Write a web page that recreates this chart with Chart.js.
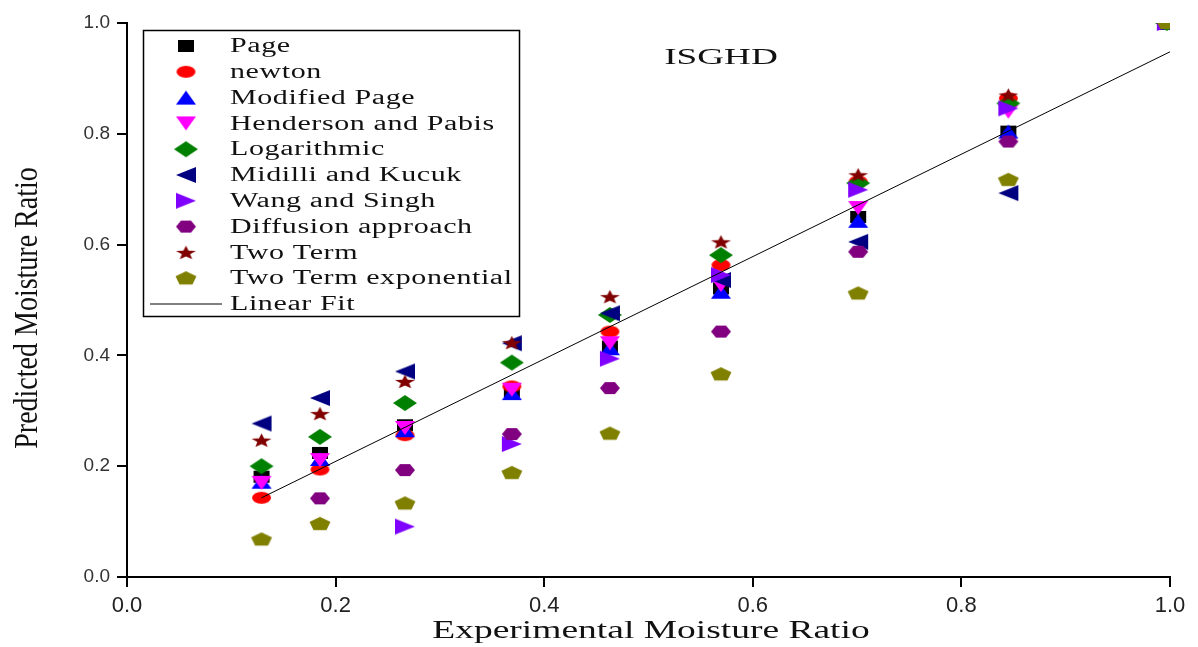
<!DOCTYPE html>
<html>
<head>
<meta charset="utf-8">
<script src="https://cdn.jsdelivr.net/npm/chart.js@4.4.1/dist/chart.umd.min.js"></script>
<style>
    html, body { margin: 0; padding: 0; background: #fff; }
    #wrap { width: 1198px; height: 647px; }
</style>
</head>
<body>
<div id="wrap"><canvas id="chart" width="1198" height="647"></canvas></div>
<script>
// Experimental moisture ratio (x) at each sampling step
const expMR = [0.129, 0.185, 0.2665, 0.369, 0.463, 0.5695, 0.701, 0.845, 0.997];

// Predicted moisture ratio for each model (null = not visible in the figure)
const pageMR      = [0.181, 0.224, 0.274, 0.335, 0.416, 0.521, 0.650, 0.804, 1.0];
const newtonMR    = [0.143, 0.194, 0.256, 0.344, 0.443, 0.563, 0.714, 0.864, 1.0];
const modPageMR   = [0.172, 0.213, 0.265, 0.332, 0.413, 0.515, 0.643, 0.804, 1.0];
const hendersonMR = [0.170, 0.211, 0.269, 0.338, 0.422, 0.527, 0.666, 0.840, 1.0];
const logMR       = [0.200, 0.253, 0.314, 0.387, 0.473, 0.581, 0.711, 0.855, 1.0];
const midilliMR   = [0.277, 0.323, 0.371, 0.422, 0.476, 0.536, 0.605, 0.693, 1.0];
const wangMR      = [null, null, 0.091, 0.240, 0.394, 0.545, 0.699, 0.846, 1.0];
const diffusionMR = [null, 0.142, 0.193, 0.258, 0.341, 0.443, 0.587, 0.786, 1.0];
const twoTermMR   = [0.247, 0.295, 0.353, 0.423, 0.506, 0.605, 0.726, 0.870, 1.0];
const twoTermExMR = [0.068, 0.096, 0.133, 0.188, 0.259, 0.366, 0.512, 0.717, 1.0];

// Linear fit end points
const fitX = [0.129, 1.0];
const fitY = [0.143, 0.948];

// Axis ticks
const tickValues = [0.0, 0.2, 0.4, 0.6, 0.8, 1.0];

// Marker shapes (drawn stretched, like the original figure)
function makeMarker(shape, color, w, h) {
    const c = document.createElement('canvas');
    c.width = w + 2;
    c.height = h + 2;
    const ctx = c.getContext('2d');
    ctx.translate(c.width / 2, c.height / 2);
    ctx.scale(w / 2, h / 2);
    ctx.beginPath();
    const poly = pts => {
        ctx.moveTo(pts[0][0], pts[0][1]);
        pts.slice(1).forEach(p => ctx.lineTo(p[0], p[1]));
        ctx.closePath();
    };
    if (shape === 'square') ctx.rect(-1, -1, 2, 2);
    if (shape === 'circle') ctx.arc(0, 0, 1, 0, Math.PI * 2);
    if (shape === 'up') poly([[0, -1], [1, 1], [-1, 1]]);
    if (shape === 'down') poly([[0, 1], [1, -1], [-1, -1]]);
    if (shape === 'diamond') poly([[0, -1], [1, 0], [0, 1], [-1, 0]]);
    if (shape === 'left') poly([[-1, 0], [1, -1], [1, 1]]);
    if (shape === 'right') poly([[1, 0], [-1, -1], [-1, 1]]);
    if (shape === 'hexagon') {
        const pts = [];
        for (let k = 0; k < 6; k++) {
            const a = k * Math.PI / 3;
            pts.push([Math.cos(a), Math.sin(a)]);
        }
        poly(pts);
    }
    if (shape === 'pentagon') {
        const pts = [];
        for (let k = 0; k < 5; k++) {
            const a = -Math.PI / 2 + k * 2 * Math.PI / 5;
            pts.push([Math.cos(a), Math.sin(a) * 1.05 + 0.05]);
        }
        poly(pts);
    }
    if (shape === 'star') {
        const pts = [];
        for (let k = 0; k < 10; k++) {
            const a = -Math.PI / 2 + k * Math.PI / 5;
            const r = k % 2 === 0 ? 1 : 0.42;
            pts.push([Math.cos(a) * r, Math.sin(a) * r + 0.1]);
        }
        poly(pts);
    }
    ctx.fillStyle = color;
    ctx.fill();
    return c;
}

const series = [
    { label: 'Page', values: pageMR, marker: makeMarker('square', '#000000', 16, 12) },
    { label: 'newton', values: newtonMR, marker: makeMarker('circle', '#ff0000', 19, 12) },
    { label: 'Modified Page', values: modPageMR, marker: makeMarker('up', '#0000ff', 20, 14) },
    { label: 'Henderson and Pabis', values: hendersonMR, marker: makeMarker('down', '#ff00ff', 20, 14) },
    { label: 'Logarithmic', values: logMR, marker: makeMarker('diamond', '#008000', 24, 16) },
    { label: 'Midilli and Kucuk', values: midilliMR, marker: makeMarker('left', '#000080', 20, 16) },
    { label: 'Wang and Singh', values: wangMR, marker: makeMarker('right', '#8000ff', 20, 16) },
    { label: 'Diffusion approach', values: diffusionMR, marker: makeMarker('hexagon', '#800080', 20, 14) },
    { label: 'Two Term', values: twoTermMR, marker: makeMarker('star', '#800000', 21, 15) },
    { label: 'Two Term exponential', values: twoTermExMR, marker: makeMarker('pentagon', '#808000', 22, 14) }
];

const datasets = series.map((s, i) => ({
    type: 'scatter',
    label: s.label,
    data: expMR.map((x, j) => ({ x: x, y: s.values[j] })).filter(p => p.y !== null),
    pointStyle: s.marker,
    pointRadius: 8,
    pointHoverRadius: 8,
    clip: 0,
    order: -i
}));

datasets.push({
    type: 'line',
    label: 'Linear Fit',
    data: fitX.map((x, j) => ({ x: x, y: fitY[j] })),
    borderColor: '#000000',
    borderWidth: 1,
    pointRadius: 0,
    fill: false,
    order: -100
});

// Draw text stretched horizontally (figure was widened)
function stretchText(ctx, text, x, y, sx, align) {
    ctx.save();
    ctx.translate(x, y);
    ctx.scale(sx, 1);
    ctx.textAlign = align;
    ctx.fillText(text, 0, 0);
    ctx.restore();
}

const decorPlugin = {
    id: 'decor',
    afterDraw(chart) {
        const ctx = chart.ctx;
        ctx.save();
        ctx.fillStyle = '#111';
        ctx.textBaseline = 'alphabetic';

        // title inside plot
        ctx.font = '24px "Liberation Serif", "Times New Roman", serif';
        stretchText(ctx, 'ISGHD', 721, 64, 1.55, 'center');

        // axis titles
        ctx.font = '25px "Liberation Serif", "Times New Roman", serif';
        stretchText(ctx, 'Experimental Moisture Ratio', 651, 638, 1.5, 'center');

        ctx.save();
        ctx.translate(37, 308);
        ctx.rotate(-Math.PI / 2);
        ctx.scale(1, 1.2);
        ctx.textAlign = 'center';
        ctx.font = '28px "Liberation Serif", "Times New Roman", serif';
        ctx.fillText('Predicted Moisture Ratio', 0, 0);
        ctx.restore();

        // legend box
        ctx.strokeStyle = '#000';
        ctx.lineWidth = 1.5;
        ctx.strokeRect(143.5, 30.5, 376, 286);

        ctx.font = '20px "Liberation Serif", "Times New Roman", serif';
        ctx.textBaseline = 'middle';
        ctx.letterSpacing = '0.4px';
        const rowH = 25.8;
        series.forEach((s, i) => {
            const y = 46 + i * rowH;
            ctx.drawImage(s.marker, 186 - s.marker.width / 2, y - s.marker.height / 2);
            stretchText(ctx, s.label, 230, y + 1, 1.5, 'left');
        });
        const ly = 46 + 10 * rowH;
        ctx.beginPath();
        ctx.moveTo(150, ly);
        ctx.lineTo(222, ly);
        ctx.lineWidth = 1;
        ctx.stroke();
        stretchText(ctx, 'Linear Fit', 230, ly + 1, 1.5, 'left');
        ctx.restore();
    }
};

new Chart(document.getElementById('chart'), {
    type: 'scatter',
    data: { datasets: datasets },
    options: {
        responsive: false,
        animation: false,
        devicePixelRatio: 1,
        layout: { padding: { left: 0, right: 28, top: 23, bottom: 0 } },
        plugins: {
            legend: { display: false },
            tooltip: { enabled: false }
        },
        scales: {
            x: {
                type: 'linear',
                min: 0,
                max: 1,
                afterBuildTicks: scale => { scale.ticks = tickValues.map(v => ({ value: v })); },
                afterFit: scale => { scale.height = 70; },
                border: { display: true, color: '#000', width: 2 },
                grid: { drawOnChartArea: false, color: '#000', lineWidth: 2, tickLength: 10 },
                ticks: {
                    color: '#222',
                    padding: 6,
                    font: { family: '"Liberation Sans Narrow", "Liberation Sans", sans-serif', size: 22 },
                    callback: v => v.toFixed(1)
                }
            },
            y: {
                type: 'linear',
                min: 0,
                max: 1,
                afterBuildTicks: scale => { scale.ticks = tickValues.map(v => ({ value: v })); },
                afterFit: scale => { scale.width = 127; },
                border: { display: true, color: '#000', width: 2 },
                grid: { drawOnChartArea: false, color: '#000', lineWidth: 2, tickLength: 10 },
                ticks: {
                    color: '#333',
                    padding: 7,
                    font: { family: '"Liberation Sans", Arial, sans-serif', size: 19 },
                    callback: v => v.toFixed(1)
                }
            }
        }
    },
    plugins: [decorPlugin]
});
</script>
</body>
</html>
